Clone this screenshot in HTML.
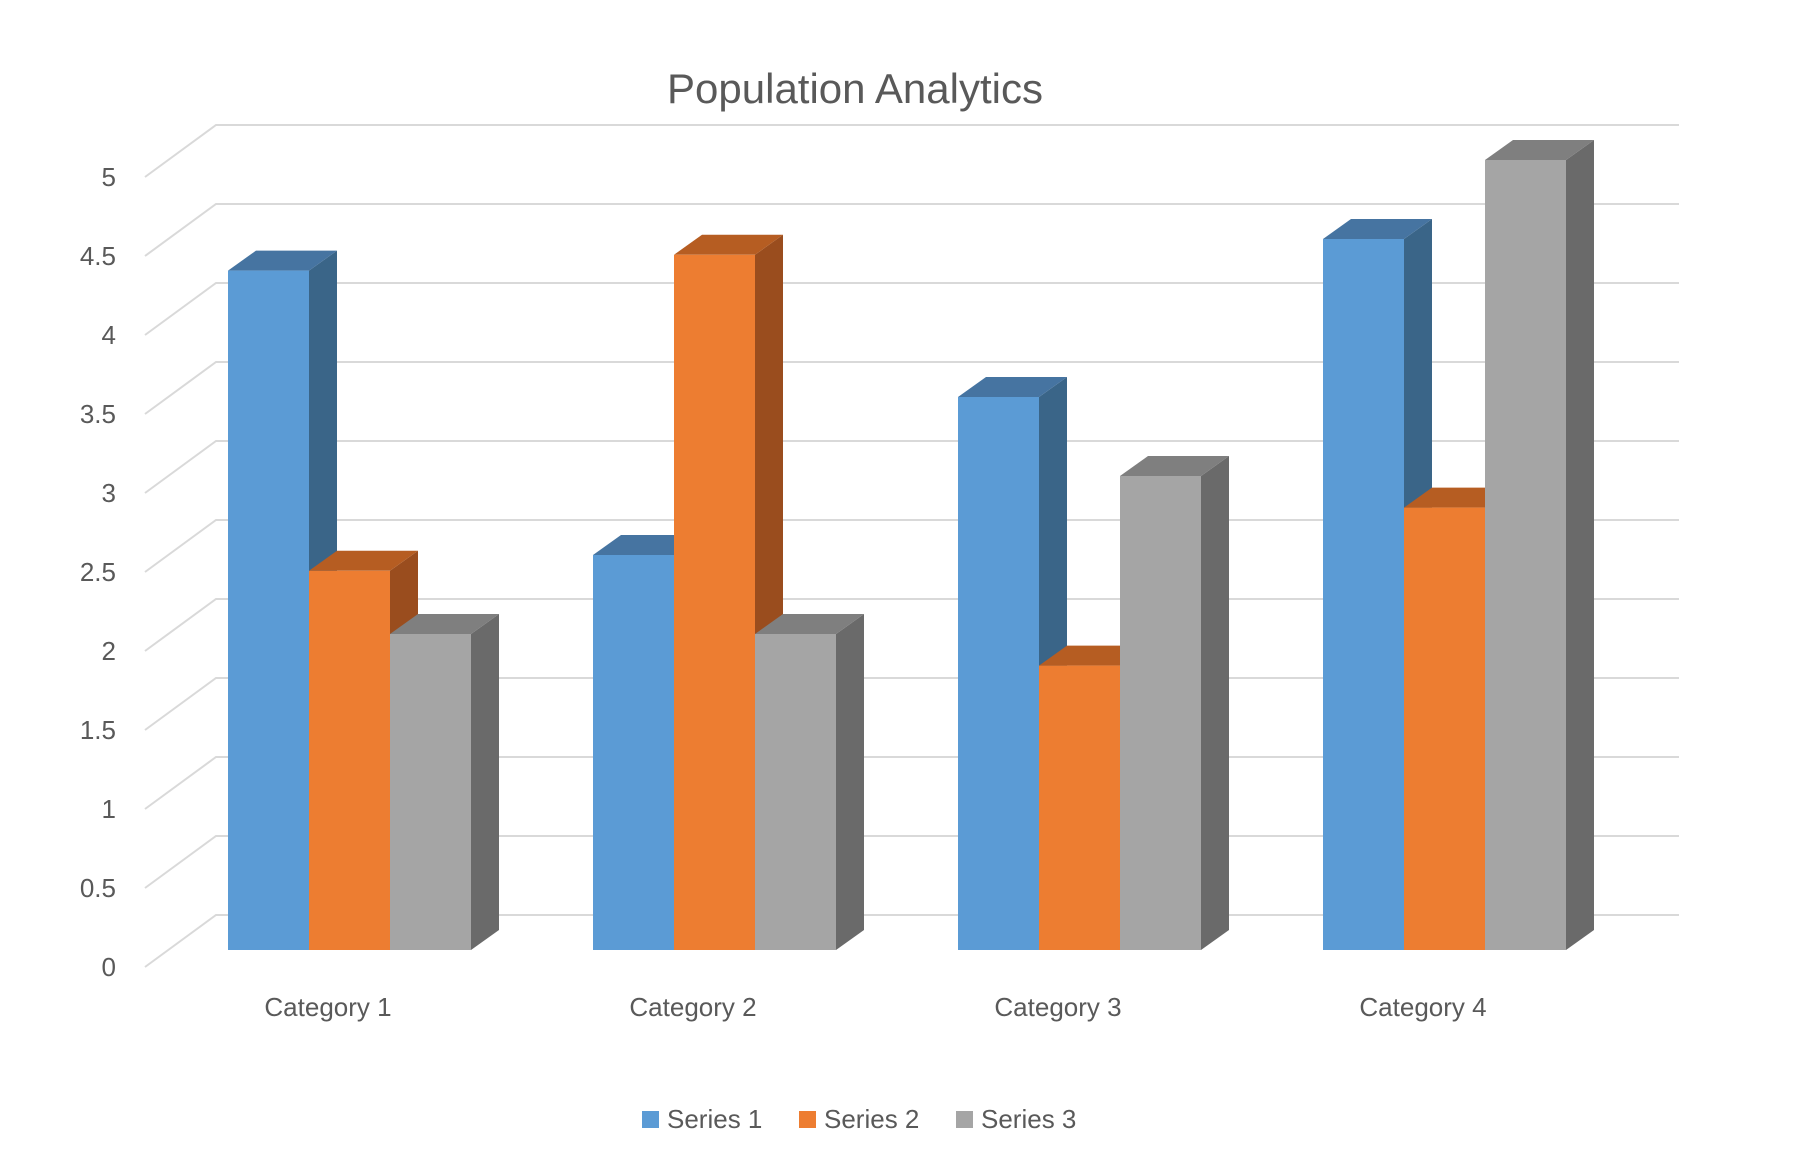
<!DOCTYPE html>
<html><head><meta charset="utf-8"><style>
body{margin:0;background:#fff;}
svg{display:block;font-family:"Liberation Sans",sans-serif;}
</style></head><body>
<svg id="chart" width="1802" height="1176" viewBox="0 0 1802 1176">
<text x="855" y="103" text-anchor="middle" font-size="42" fill="#595959">Population Analytics</text>
<g id="grid"></g>
<g id="ylabels"></g>
<g id="bars"></g>
<g id="xlabels"></g>
<g id="legend"></g>
</svg>
<script>
const categories = ["Category 1","Category 2","Category 3","Category 4"];
const seriesNames = ["Series 1","Series 2","Series 3"];
const series1 = [4.3, 2.5, 3.5, 4.5];
const series2 = [2.4, 4.4, 1.8, 2.8];
const series3 = [2, 2, 3, 5];
const yTicks = [0,0.5,1,1.5,2,2.5,3,3.5,4,4.5,5];
const yTickLabels = ["0","0.5","1","1.5","2","2.5","3","3.5","4","4.5","5"];

const NS="http://www.w3.org/2000/svg";
const values=[series1,series2,series3];
const colors=[["#5B9BD5","#4674A1","#3A6588"],["#ED7D31","#B65D22","#9A4D1E"],["#A5A5A5","#7F7F7F","#6A6A6A"]];
const PX=158, FRONT0=950, DX=28, DY=20;
function yBar(v){return FRONT0-v*PX;}
function yFrontGrid(v){return 967-v*PX;}
function yBackGrid(v){return 915-v*PX;}
function xCat(i){return 228+i*365;}
const BW=81;
function mk(tag,attrs,parent){const e=document.createElementNS(NS,tag);for(const k in attrs)e.setAttribute(k,attrs[k]);parent.appendChild(e);return e;}
const grid=document.getElementById('grid');
yTicks.forEach((v,i)=>{
  const p=mk('polyline',{points:`145,${yFrontGrid(v)} 216,${yBackGrid(v)} 1679,${yBackGrid(v)}`,fill:'none',stroke:'#d9d9d9','stroke-width':2},grid);
  
  
  const t=mk('text',{x:116,y:yFrontGrid(v)+9,'text-anchor':'end','font-size':26,fill:'#595959'},document.getElementById('ylabels'));
  t.textContent=yTickLabels[i];
  
  
});
const bars=document.getElementById('bars');
categories.forEach((c,ci)=>{
  values.forEach((s,si)=>{
    const x=xCat(ci)+si*BW, yt=yBar(s[ci]), yb=FRONT0;
    const g=mk('g',{},bars);
    
    
    mk('polygon',{points:`${x+BW},${yt} ${x+BW+DX},${yt-DY} ${x+BW+DX},${yb-DY} ${x+BW},${yb}`,fill:colors[si][2]},g);
    mk('polygon',{points:`${x},${yt} ${x+DX},${yt-DY} ${x+BW+DX},${yt-DY} ${x+BW},${yt}`,fill:colors[si][1]},g);
    mk('rect',{x:x,y:yt,width:BW,height:yb-yt,fill:colors[si][0]},g);
  });
  const t=mk('text',{x:xCat(ci)+100,y:1016,'text-anchor':'middle','font-size':26,fill:'#595959'},document.getElementById('xlabels'));
  t.textContent=c;
  
  
});
const legend=document.getElementById('legend');
const lx=[642,799,956];
seriesNames.forEach((n,i)=>{
  const g=mk('g',{},legend);
  
  
  mk('rect',{x:lx[i],y:1111,width:17,height:17,fill:colors[i][0]},g);
  const t=mk('text',{x:lx[i]+25,y:1128,'font-size':26,fill:'#595959'},g);
  t.textContent=n;
});
</script>
</body></html>
